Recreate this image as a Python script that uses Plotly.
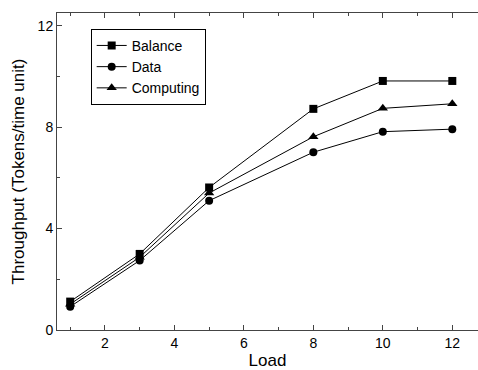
import plotly.graph_objects as go

load = [1, 3, 5, 8, 10, 12]
balance = [1.12, 3.0, 5.62, 8.72, 9.82, 9.82]
data = [0.92, 2.74, 5.1, 7.01, 7.82, 7.92]
computing = [1.02, 2.87, 5.4, 7.62, 8.74, 8.92]

series = [("Balance", balance, "square", 8), ("Data", data, "circle", 8), ("Computing", computing, "triangle-up", 9)]

fig = go.Figure()
for name, ys, sym, sz in series:
    fig.add_trace(go.Scatter(x=load, y=ys, name=name, mode="lines+markers",
                             line=dict(color="black", width=1),
                             marker=dict(symbol=sym, size=sz, color="black")))

x_range = [0.62, 12.74]
x_major = [2, 4, 6, 8, 10, 12]
x_minor = [1, 3, 5, 7, 9, 11]

axis_font = dict(family="Liberation Sans, Arial, sans-serif", size=14, color="black")
fig.update_layout(
    width=478, height=370,
    margin=dict(l=57, r=0, t=13, b=40),
    plot_bgcolor="white", paper_bgcolor="white",
    font=axis_font,
    showlegend=True,
    legend=dict(x=0.08, y=0.95, xanchor="left", yanchor="top",
                bordercolor="black", borderwidth=1, bgcolor="white",
                font=dict(size=14), itemwidth=30, tracegroupgap=0),
    xaxis=dict(range=x_range, tickmode="array", tickvals=x_major,
               ticks="inside", ticklen=5, tickcolor="#444", showline=True, linecolor="#444",
               linewidth=1, mirror="ticks", showgrid=False, zeroline=False,
               minor=dict(tickvals=x_minor, ticks="inside", ticklen=3, tickcolor="#444"),
               title=dict(text="Load", standoff=7), tickfont=dict(size=14)),
    yaxis=dict(range=[0, 12.5], tickmode="array", tickvals=[0, 4, 8, 12],
               ticks="inside", ticklen=5, tickcolor="#444", showline=True, linecolor="#444",
               linewidth=1, mirror=False, showgrid=False, zeroline=False,
               minor=dict(tickvals=[2, 6, 10], ticks="inside", ticklen=3, tickcolor="#444"),
               title=dict(text="Throughput (Tokens/time unit)", standoff=8), tickfont=dict(size=14)),
)

fig.write_html("out.html")
